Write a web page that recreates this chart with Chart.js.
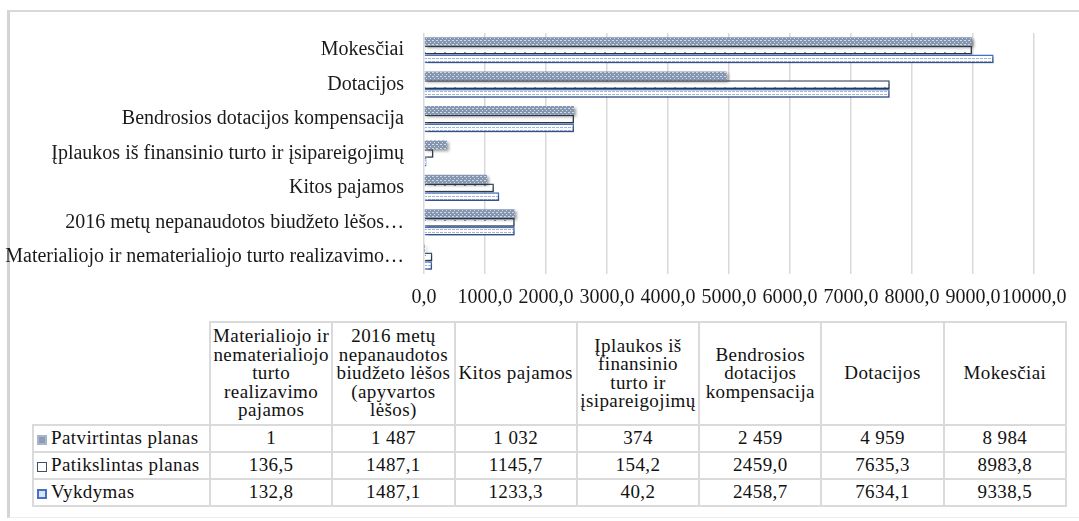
<!DOCTYPE html>
<html>
<head>
<meta charset="utf-8">
<script src="https://cdn.jsdelivr.net/npm/chart.js@4.4.0/dist/chart.umd.min.js"></script>
<style>
  html, body { margin: 0; padding: 0; background: #fff; }
  body { width: 1079px; height: 521px; position: relative; overflow: hidden; font-family: "Liberation Serif", "Times New Roman", serif; }
  #frame { position: absolute; left: 7px; top: 10px; width: 1090px; height: 505px; border-top: 2px solid #d9d9d9; border-left: 3px solid #d4d4d4; border-bottom: 1px solid #ececec; }
  #chart { position: absolute; left: 0; top: 0; }
  #tbl { position: absolute; left: 32px; top: 321px; width: 1035px; table-layout: fixed; border-collapse: collapse; font-size: 19px; letter-spacing: 0.4px; color: #111; }
  #tbl td, #tbl th { border: 2px solid #dadada; padding: 0; text-align: center; font-weight: normal; line-height: 18.5px; overflow: visible; }
  #tbl th { height: 101px; }
  #tbl th.corner { border: none; }
  #tbl td { height: 25px; }
  #tbl td.name { text-align: left; padding-left: 3px; white-space: nowrap; }
  .key { display: inline-block; width: 10px; height: 10px; margin-right: 4px; vertical-align: -1px; box-sizing: border-box; }
</style>
</head>
<body>
<div id="frame"></div>
<canvas id="chart" width="1079" height="320"></canvas>
<table id="tbl">
  <colgroup><col style="width:177px"><col><col><col><col><col><col><col></colgroup>
</table>
<script>
// categories in the order of the data table (bottom to top on the chart)
const categories = [
    'Materialiojo ir nematerialiojo turto realizavimo pajamos',
    '2016 metų nepanaudotos biudžeto lėšos (apyvartos lėšos)',
    'Kitos pajamos',
    'Įplaukos iš finansinio turto\u00a0ir įsipareigojimų',
    'Bendrosios dotacijos kompensacija',
    'Dotacijos',
    'Mokesčiai'
];
const axisLabels = [
    'Materialiojo ir nematerialiojo turto realizavimo…',
    '2016 metų nepanaudotos biudžeto lėšos…',
    'Kitos pajamos',
    'Įplaukos iš finansinio turto ir įsipareigojimų',
    'Bendrosios dotacijos kompensacija',
    'Dotacijos',
    'Mokesčiai'
];
const seriesNames = ['Patvirtintas planas', 'Patikslintas planas', 'Vykdymas'];
const patvirtintas = [1, 1487, 1032, 374, 2459, 4959, 8984];
const patikslintas = [136.5, 1487.1, 1145.7, 154.2, 2459.0, 7635.3, 8983.8];
const vykdymas = [132.8, 1487.1, 1233.3, 40.2, 2458.7, 7634.1, 9338.5];
const xTicks = [0, 1000, 2000, 3000, 4000, 5000, 6000, 7000, 8000, 9000, 10000];

const canvas = document.getElementById('chart');
const ctx = canvas.getContext('2d');

function makePattern(bg, dot, w, h, dots) {
    const c = document.createElement('canvas');
    c.width = w;
    c.height = h;
    const p = c.getContext('2d');
    p.fillStyle = bg;
    p.fillRect(0, 0, w, h);
    p.fillStyle = dot;
    for (const d of dots) p.fillRect(d[0], d[1], 1, 1);
    return ctx.createPattern(c, 'repeat');
}

const fillGray = makePattern('#8596b1', '#d3dbe8', 4, 4, [[0, 0], [2, 2], [1, 0]]);
const fillWhite = makePattern('#ffffff', '#7d9bd4', 10, 7, [[4, 3], [5, 3]]);
const fillBlue = makePattern('#ffffff', '#9fb4df', 4, 3, [[0, 1], [2, 1], [1, 1]]);

const fmtAxis = v => v.toFixed(1).replace('.', ',');
const fmtInt = v => Math.round(v).toString().replace(/\B(?=(\d{3})+(?!\d))/g, ' ');
const fmtDec = v => v.toFixed(1).replace('.', ',');

const shadow = {
    id: 'shadow',
    beforeDatasetsDraw(chart) {
        const c = chart.ctx;
        c.save();
        c.shadowColor = 'rgba(0,0,0,0.38)';
        c.shadowOffsetX = 2;
        c.shadowOffsetY = 2;
        c.shadowBlur = 3;
    },
    afterDatasetsDraw(chart) {
        chart.ctx.restore();
    }
};

const font = { family: '"Liberation Serif", "Times New Roman", serif', size: 20 };

new Chart(ctx, {
    type: 'bar',
    data: {
        labels: axisLabels,
        datasets: [
            { label: seriesNames[0], data: patvirtintas, backgroundColor: fillGray, borderWidth: 0 },
            { label: seriesNames[1], data: patikslintas, backgroundColor: fillWhite, borderColor: '#3f4f66', borderWidth: 1.5 },
            { label: seriesNames[2], data: vykdymas, backgroundColor: fillBlue, borderColor: '#4472c4', borderWidth: 1.5 }
        ]
    },
    options: {
        indexAxis: 'y',
        responsive: false,
        animation: false,
        layout: { padding: { top: 33, right: 45, bottom: 8, left: 0 } },
        datasets: { bar: { categoryPercentage: 0.76, barPercentage: 1 } },
        plugins: { legend: { display: false }, tooltip: { enabled: false } },
        scales: {
            x: {
                min: 0,
                max: 10000,
                afterBuildTicks: s => { s.ticks = xTicks.map(v => ({ value: v })); },
                afterFit: s => { s.height = 38; },
                ticks: { font: font, color: '#1a1a1a', padding: 12, maxRotation: 0, autoSkip: false, callback: v => fmtAxis(v) },
                grid: { color: '#d9d9d9', lineWidth: 1.5, drawTicks: false },
                border: { display: false }
            },
            y: {
                reverse: true,
                afterFit: s => { s.width = 424; },
                ticks: { font: font, color: '#1a1a1a', padding: 12 },
                grid: { display: false },
                border: { display: false }
            }
        }
    },
    plugins: [shadow]
});

// data table below the chart
const table = document.getElementById('tbl');
const head = document.createElement('tr');
const corner = document.createElement('th');
corner.className = 'corner';
head.append(corner);
for (const cat of categories) {
    const th = document.createElement('th');
    th.textContent = cat;
    head.append(th);
}
table.append(head);

const rows = [
    { name: seriesNames[0], values: patvirtintas, fmt: fmtInt, key: 'background:#8d9db6;border:2px solid #a9b4c6;' },
    { name: seriesNames[1], values: patikslintas, fmt: fmtDec, key: 'background:#fff;border:1.5px solid #3f4f66;' },
    { name: seriesNames[2], values: vykdymas, fmt: fmtDec, key: 'background:#dbe4f5;border:2px solid #4472c4;' }
];
for (const row of rows) {
    const tr = document.createElement('tr');
    const name = document.createElement('td');
    name.className = 'name';
    const key = document.createElement('span');
    key.className = 'key';
    key.style.cssText = row.key;
    name.append(key, document.createTextNode(row.name));
    tr.append(name);
    for (const v of row.values) {
        const td = document.createElement('td');
        td.textContent = row.fmt(v);
        tr.append(td);
    }
    table.append(tr);
}
</script>
</body>
</html>
